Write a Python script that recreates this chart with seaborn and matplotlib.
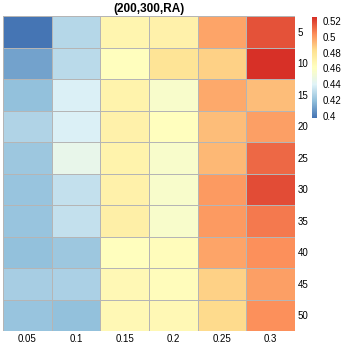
import numpy as np
import pandas as pd
import seaborn as sns
import matplotlib.pyplot as plt
from matplotlib.colors import LinearSegmentedColormap

plt.rcParams['font.family'] = ['Liberation Sans', 'DejaVu Sans']

# columns (x) and rows (y)
col_labels = ["0.05", "0.1", "0.15", "0.2", "0.25", "0.3"]
row_labels = ["5", "10", "15", "20", "25", "30", "35", "40", "45", "50"]

row_5 = [0.397, 0.428, 0.468, 0.471, 0.498, 0.517]
row_10 = [0.410, 0.430, 0.462, 0.480, 0.486, 0.525]
row_15 = [0.419, 0.439, 0.469, 0.457, 0.496, 0.491]
row_20 = [0.427, 0.439, 0.470, 0.462, 0.491, 0.499]
row_25 = [0.422, 0.445, 0.469, 0.456, 0.493, 0.512]
row_30 = [0.421, 0.432, 0.470, 0.457, 0.500, 0.518]
row_35 = [0.421, 0.432, 0.472, 0.456, 0.500, 0.508]
row_40 = [0.420, 0.422, 0.462, 0.463, 0.497, 0.503]
row_45 = [0.424, 0.426, 0.466, 0.463, 0.486, 0.499]
row_50 = [0.421, 0.420, 0.465, 0.466, 0.484, 0.503]

cbar_ticks = [0.4, 0.42, 0.44, 0.46, 0.48, 0.5, 0.52]
cbar_ticklabels = ["0.4", "0.42", "0.44", "0.46", "0.48", "0.5", "0.52"]

df = pd.DataFrame([row_5, row_10, row_15, row_20, row_25, row_30,
                   row_35, row_40, row_45, row_50],
                  index=row_labels, columns=col_labels)

# pheatmap default palette (reversed RdYlBu, 7 colours)
pal = ["#4575B4", "#91BFDB", "#E0F3F8", "#FFFFBF", "#FEE090", "#FC8D59", "#D73027"]
cmap = LinearSegmentedColormap.from_list("rdylbu_r", pal, N=100)

fig = plt.figure(figsize=(3.45, 3.45), dpi=100)
ax = fig.add_axes([3/345, 1 - 331/345, 292/345, 315/345])
cax = fig.add_axes([312/345, 1 - 118/345, 5/345, 101/345])

sns.heatmap(df, ax=ax, cbar_ax=cax, cmap=cmap,
            vmin=df.values.min(), vmax=df.values.max(),
            linewidths=0.6, linecolor="#B5B5B5")

ax.set_title("(200,300,RA)", fontsize=8.5, fontweight="bold", pad=3)
ax.yaxis.tick_right()
ax.tick_params(axis="both", length=0, labelsize=7, pad=2)
ax.set_yticklabels(row_labels, rotation=0)
ax.set_xticklabels(col_labels, rotation=0)
ax.set_xlabel("")
ax.set_ylabel("")

cax.set_yticks(cbar_ticks)
cax.set_yticklabels(cbar_ticklabels)
cax.tick_params(length=0, labelsize=7, pad=4)
for s in cax.spines.values():
    s.set_visible(False)

fig.savefig("out.png", dpi=100)
